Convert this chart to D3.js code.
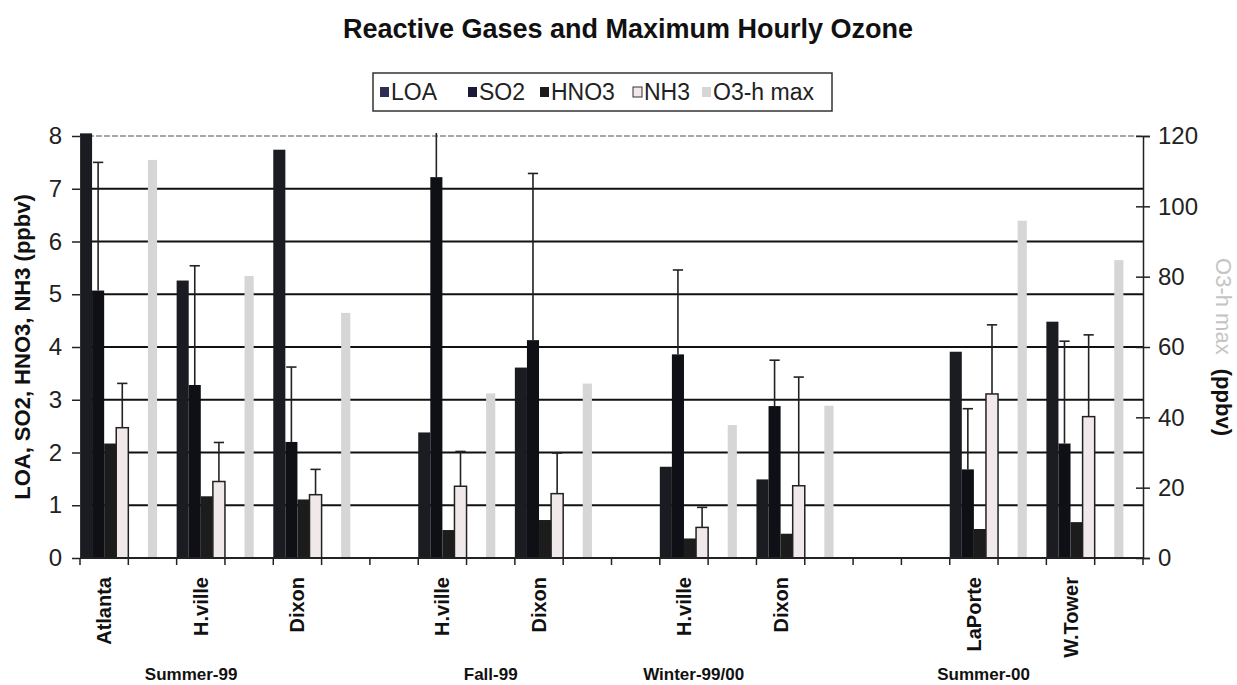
<!DOCTYPE html>
<html>
<head>
<meta charset="utf-8">
<script src="https://cdn.jsdelivr.net/npm/d3@7"></script>
<style>
  body { margin: 0; background: #fff; }
  svg { display: block; }
</style>
</head>
<body>
<svg id="chart" width="1237" height="685"></svg>
<script>
// Slots along the x axis: each site slot holds the four gas bars,
// the following blank slot holds that site's ozone bar.
const categories = ["Atlanta","","H.ville","","Dixon","","","H.ville","","Dixon","","",
                    "H.ville","","Dixon","","","","LaPorte","","W.Tower",""];
const seasons = ["Summer-99","Fall-99","Winter-99/00","Summer-00"];
const seriesNames = ["LOA","SO2","HNO3","NH3","O3-h max"];
const N = null;
const loa    = [8.05,N,5.26,N,7.74,N,N,2.38,N,3.61,N,N,1.73,N,1.49,N,N,N,3.91,N,4.48,N];
const so2    = [5.07,N,3.28,N,2.20,N,N,7.22,N,4.13,N,N,3.86,N,2.88,N,N,N,1.68,N,2.17,N];
const so2Err = [2.43,N,2.26,N,1.42,N,N,1.10,N,3.16,N,N,1.60,N,0.87,N,N,N,1.15,N,1.94,N];
const hno3   = [2.17,N,1.17,N,1.11,N,N,0.53,N,0.72,N,N,0.37,N,0.46,N,N,N,0.55,N,0.68,N];
const nh3    = [2.47,N,1.45,N,1.20,N,N,1.36,N,1.22,N,N,0.58,N,1.37,N,N,N,3.11,N,2.68,N];
const nh3Err = [0.84,N,0.74,N,0.48,N,N,0.66,N,0.77,N,N,0.38,N,2.06,N,N,N,1.31,N,1.55,N];
const o3max  = [N,113.2,N,80.2,N,69.7,N,N,46.8,N,49.6,N,N,37.8,N,43.3,N,N,N,95.9,N,84.7];
const leftTicks  = [0,1,2,3,4,5,6,7,8];
const rightTicks = [0,20,40,60,80,100,120];

// ---- layout ----
const plot = { left: 80, right: 1143, top: 136, bottom: 558 };
const seasonSlot = [2.3, 8.5, 12.7, 18.7];   // label centres, in slot units
const colors = {
  "LOA": "#1b1b22", "SO2": "#0f0f16", "HNO3": "#1c1c1c",
  "NH3": "#f1e8ea", "O3-h max": "#d6d6d6"
};
const legendColors = { ...colors, "LOA": "#2d2d55", "SO2": "#1a1a38" };
const FONT = "'Liberation Sans', Arial, Helvetica, sans-serif";

const svg = d3.select("#chart");

const x = d3.scaleBand().domain(d3.range(categories.length))
  .range([plot.left, plot.right]).paddingInner(0).paddingOuter(0);
const xSub = d3.scaleBand().domain(seriesNames.slice(0, 4))
  .range([0, x.bandwidth()]).padding(0);
const yL = d3.scaleLinear().domain([0, 8]).range([plot.bottom, plot.top]);
const yR = d3.scaleLinear().domain([0, 120]).range([plot.bottom, plot.top]);
const slotX = s => plot.left + s * x.step();

// clip region (bars running past the top are cut at the plot edge)
svg.append("defs").append("clipPath").attr("id", "plotClip")
  .append("rect")
  .attr("x", plot.left).attr("y", plot.top - 3)
  .attr("width", plot.right - plot.left).attr("height", plot.bottom - plot.top + 3);

// ---- title ----
svg.append("text")
  .attr("x", 628).attr("y", 38)
  .attr("text-anchor", "middle")
  .attr("font-family", FONT).attr("font-weight", "bold").attr("font-size", 27)
  .attr("fill", "#111")
  .text("Reactive Gases and Maximum Hourly Ozone");

// ---- gridlines ----
const grid = svg.append("g");
grid.selectAll("line").data(leftTicks.filter(t => t > 0)).join("line")
  .attr("x1", plot.left).attr("x2", plot.right)
  .attr("y1", d => yL(d)).attr("y2", d => yL(d))
  .attr("stroke", d => d === 8 ? "#8a8a8a" : "#111")
  .attr("stroke-width", d => d === 8 ? 1.5 : 2)
  .attr("stroke-dasharray", d => d === 8 ? "6,2" : null);

// ---- bars ----
const bars = svg.append("g").attr("clip-path", "url(#plotClip)");
const gasSeries = [
  { name: "LOA",  values: loa },
  { name: "SO2",  values: so2,  err: so2Err },
  { name: "HNO3", values: hno3 },
  { name: "NH3",  values: nh3,  err: nh3Err }
];
gasSeries.forEach(s => {
  const pts = s.values.map((v, i) => ({ i, v })).filter(d => d.v !== null);
  bars.append("g").selectAll("rect").data(pts).join("rect")
    .attr("x", d => x(d.i) + xSub(s.name))
    .attr("width", xSub.bandwidth())
    .attr("y", d => yL(d.v))
    .attr("height", d => yL(0) - yL(d.v))
    .attr("fill", colors[s.name])
    .attr("stroke", s.name === "NH3" ? "#222" : "none")
    .attr("stroke-width", s.name === "NH3" ? 1.5 : 0);
});

// ozone on the secondary axis, narrow bar centred in its slot
const o3Pts = o3max.map((v, i) => ({ i, v })).filter(d => d.v !== null);
const o3W = x.bandwidth() * 0.19;
bars.append("g").selectAll("rect").data(o3Pts).join("rect")
  .attr("x", d => x(d.i) + x.bandwidth() / 2 - o3W / 2)
  .attr("width", o3W)
  .attr("y", d => yR(d.v))
  .attr("height", d => yR(0) - yR(d.v))
  .attr("fill", colors["O3-h max"]);

// error bars (upper only) for SO2 and NH3
gasSeries.filter(s => s.err).forEach(s => {
  const pts = s.values.map((v, i) => ({ i, v, e: s.err[i] })).filter(d => d.v !== null);
  const g = bars.append("g").attr("stroke", "#222").attr("stroke-width", 1.6);
  const cx = d => x(d.i) + xSub(s.name) + xSub.bandwidth() / 2;
  const cap = xSub.bandwidth() * 0.85;
  g.selectAll("line.stem").data(pts).join("line").attr("class", "stem")
    .attr("x1", cx).attr("x2", cx)
    .attr("y1", d => yL(d.v)).attr("y2", d => yL(d.v + d.e));
  g.selectAll("line.cap").data(pts).join("line").attr("class", "cap")
    .attr("x1", d => cx(d) - cap / 2).attr("x2", d => cx(d) + cap / 2)
    .attr("y1", d => yL(d.v + d.e)).attr("y2", d => yL(d.v + d.e));
});

// ---- axes ----
const axisLeft = d3.axisLeft(yL).tickValues(leftTicks).tickSize(8).tickPadding(10)
  .tickFormat(d3.format("d"));
const gL = svg.append("g").attr("transform", `translate(${plot.left},0)`).call(axisLeft);
gL.select(".domain").attr("stroke", "#333").attr("stroke-width", 1);
gL.selectAll(".tick line").attr("stroke", "#222").attr("stroke-width", 1.5);
gL.selectAll(".tick text").attr("font-family", FONT).attr("font-size", 24).attr("fill", "#222");

const axisRight = d3.axisRight(yR).tickValues(rightTicks).tickSize(7).tickPadding(8)
  .tickFormat(d3.format("d"));
const gR = svg.append("g").attr("transform", `translate(${plot.right},0)`).call(axisRight);
gR.select(".domain").attr("stroke", "#222").attr("stroke-width", 1.5);
gR.selectAll(".tick line").attr("x1", -7).attr("stroke", "#222").attr("stroke-width", 1.5);
gR.selectAll(".tick text").attr("font-family", FONT).attr("font-size", 24).attr("fill", "#222");

// category axis: ticks on slot boundaries, site names rotated
const gB = svg.append("g");
gB.append("line").attr("x1", plot.left).attr("x2", plot.right)
  .attr("y1", plot.bottom).attr("y2", plot.bottom)
  .attr("stroke", "#222").attr("stroke-width", 1.8);
gB.selectAll("line.tk").data(d3.range(categories.length + 1)).join("line").attr("class", "tk")
  .attr("x1", d => slotX(d)).attr("x2", d => slotX(d))
  .attr("y1", plot.bottom).attr("y2", plot.bottom + 7)
  .attr("stroke", "#222").attr("stroke-width", 1.5);
gB.selectAll("text.site").data(categories.map((c, i) => ({ c, i })).filter(d => d.c))
  .join("text").attr("class", "site")
  .attr("transform", d => `translate(${x(d.i) + x.bandwidth() / 2 + 7},${plot.bottom + 19}) rotate(-90)`)
  .attr("text-anchor", "end")
  .attr("font-family", FONT).attr("font-weight", "bold").attr("font-size", 20)
  .attr("fill", "#111")
  .text(d => d.c);

gB.selectAll("text.season").data(seasons).join("text").attr("class", "season")
  .attr("x", (d, i) => slotX(seasonSlot[i]))
  .attr("y", 680)
  .attr("text-anchor", "middle")
  .attr("font-family", FONT).attr("font-weight", "bold").attr("font-size", 17)
  .attr("fill", "#111")
  .text(d => d);

// ---- axis titles ----
svg.append("text")
  .attr("transform", `translate(30,${(plot.top + plot.bottom) / 2}) rotate(-90)`)
  .attr("text-anchor", "middle")
  .attr("font-family", FONT).attr("font-weight", "bold").attr("font-size", 22)
  .attr("fill", "#111")
  .text("LOA, SO2, HNO3, NH3 (ppbv)");

const rt = svg.append("text")
  .attr("transform", `translate(1216,${(plot.top + plot.bottom) / 2}) rotate(90)`)
  .attr("text-anchor", "middle")
  .attr("font-family", FONT).attr("font-size", 22);
rt.append("tspan").attr("fill", "#c4c4c4").text("O3-h max ");
rt.append("tspan").attr("fill", "#111").attr("font-weight", "bold").attr("dx", 8).text("(ppbv)");

// ---- legend ----
const lg = svg.append("g");
lg.append("rect").attr("x", 373).attr("y", 73).attr("width", 459).attr("height", 38)
  .attr("fill", "#fff").attr("stroke", "#333").attr("stroke-width", 1.5);
const legendX = [380, 468, 540, 633, 702];
const items = lg.selectAll("g.item").data(seriesNames).join("g").attr("class", "item")
  .attr("transform", (d, i) => `translate(${legendX[i]},92)`);
items.append("rect").attr("x", 0).attr("y", -5).attr("width", 9).attr("height", 10)
  .attr("fill", d => legendColors[d])
  .attr("stroke", d => d === "NH3" ? "#333" : "none").attr("stroke-width", 1);
items.append("text").attr("x", 11).attr("y", 8)
  .attr("font-family", FONT).attr("font-size", 23).attr("fill", "#222")
  .text(d => d);
</script>
</body>
</html>
